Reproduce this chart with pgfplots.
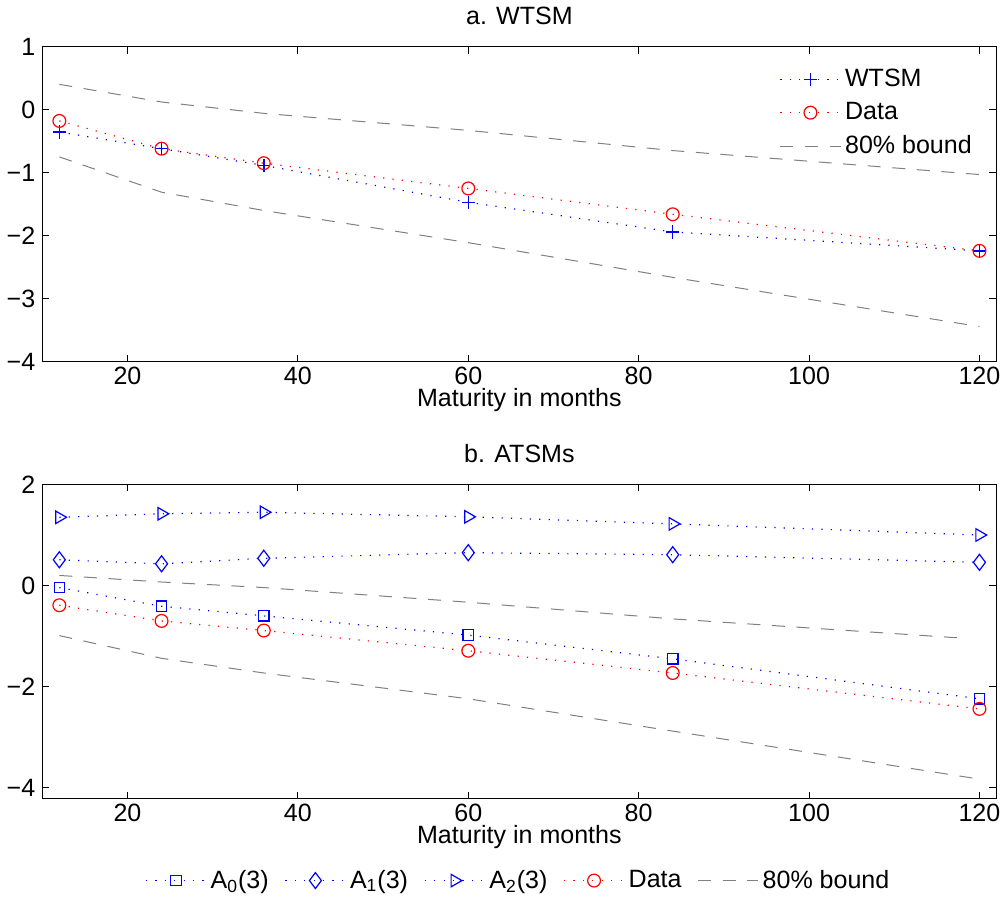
\documentclass[border=0pt]{standalone}
\usepackage{fontspec}
\setmainfont{Liberation Sans}
\usepackage{pgfplots}
\pgfplotsset{compat=1.18}

\definecolor{mblue}{rgb}{0,0,1}
\definecolor{mred}{rgb}{1,0,0}
\definecolor{mgray}{rgb}{0.5,0.5,0.5}

\newcommand{\mfont}{\fontsize{12.5}{14}\selectfont}

\pgfplotsset{
  mstyle/.style={
    scale only axis,
    width=476.5pt,
    xmin=10, xmax=122,
    xtick={20,40,60,80,100,120},
    xticklabels={20,40,60,80,100,120},
    tick align=inside,
    major tick length=3.5pt,
    axis line style={line width=0.6pt},
    every tick/.style={line width=0.5pt, black},
    font=\mfont,
    xlabel={Maturity in months},
    xlabel style={yshift=5pt},
    xticklabel style={yshift=1pt},
    title style={yshift=1.5pt},
    legend cell align=left,
  },
  mdot/.style={line width=0.6pt, dash pattern=on 0.6pt off 4.1pt},
  mdash/.style={mgray, line width=0.5pt, dash pattern=on 6.5pt off 5.8pt},
  longleg/.style={legend image code/.code={
    \draw[mark repeat=2,mark phase=2] plot coordinates {(0pt,0pt) (15pt,0pt) (30pt,0pt)};}},
}

\begin{document}
\begin{tikzpicture}
% a. WTSM
\begin{axis}[mstyle,
  at={(0pt,0pt)}, anchor=north west,
  height=157.5pt,
  ymin=-4, ymax=1,
  ytick={-4,-3,-2,-1,0,1},
  yticklabels={−4,−3,−2,−1,0,1},
  title={a. WTSM},
  longleg,
  legend style={at={(0.985,0.955)}, anchor=north east, draw=none, fill=none,
    row sep=2.5pt, font=\mfont},
]
\addplot[mblue, mdot, mark=+, mark size=3.3pt, mark options={solid, mblue, line width=0.7pt}]
  coordinates {(12,-0.355) (24,-0.62) (36,-0.885) (60,-1.47) (84,-1.94) (120,-2.24)};
\addlegendentry{WTSM}
\addplot[mred, mdot, mark=o, mark size=3.2pt, mark options={solid, mred, line width=0.6pt}]
  coordinates {(12,-0.18) (24,-0.62) (36,-0.85) (60,-1.25) (84,-1.66) (120,-2.24)};
\addlegendentry{Data}
\addplot[mdash] coordinates {(12,0.40) (24,0.12) (36,-0.06) (60,-0.33) (84,-0.65) (120,-1.03)};
\addlegendentry{80\% bound}
\addplot[mdash, forget plot] coordinates {(12,-0.75) (24,-1.31) (36,-1.60) (60,-2.11) (84,-2.66) (120,-3.44)};
\end{axis}

% b. ATSMs
\begin{axis}[mstyle,
  at={(0pt,-218.7pt)}, anchor=north west,
  height=157pt,
  ymin=-4.22, ymax=2,
  ytick={-4,-2,0,2},
  yticklabels={−4,−2,0,2},
  title={b. ATSMs},
  longleg,
  legend columns=5,
  legend style={at={(0.5,-0.26)}, anchor=center, draw=none, fill=none,
    /tikz/every even column/.append style={column sep=6pt},
    font=\mfont},
]
\addplot[mblue, mdot, mark=square, mark size=2.6pt, mark options={solid, mblue, line width=0.6pt}]
  coordinates {(12,-0.04) (24,-0.41) (36,-0.60) (60,-0.98) (84,-1.45) (120,-2.24)};
\addlegendentry{A\textsubscript{0}(3)}
\addplot[mblue, mdot, mark=diamond, mark size=4pt, mark options={solid, mblue, line width=0.6pt}]
  coordinates {(12,0.51) (24,0.43) (36,0.54) (60,0.65) (84,0.61) (120,0.46)};
\addlegendentry{A\textsubscript{1}(3)}
\addplot[mblue, mdot, mark=triangle, mark size=3.6pt, mark options={solid, mblue, rotate=-90, line width=0.6pt}]
  coordinates {(12,1.35) (24,1.42) (36,1.45) (60,1.36) (84,1.22) (120,1.00)};
\addlegendentry{A\textsubscript{2}(3)}
\addplot[mred, mdot, mark=o, mark size=3.2pt, mark options={solid, mred, line width=0.6pt}]
  coordinates {(12,-0.39) (24,-0.70) (36,-0.89) (60,-1.29) (84,-1.73) (120,-2.44)};
\addlegendentry{Data}
\addplot[mdash] coordinates {(12,0.20) (24,0.07) (36,-0.04) (60,-0.33) (84,-0.66) (118,-1.04)};
\addlegendentry{80\% bound}
\addplot[mdash, forget plot] coordinates {(12,-0.99) (24,-1.44) (36,-1.73) (60,-2.24) (84,-2.88) (120,-3.83)};
\end{axis}
\end{tikzpicture}
\end{document}
